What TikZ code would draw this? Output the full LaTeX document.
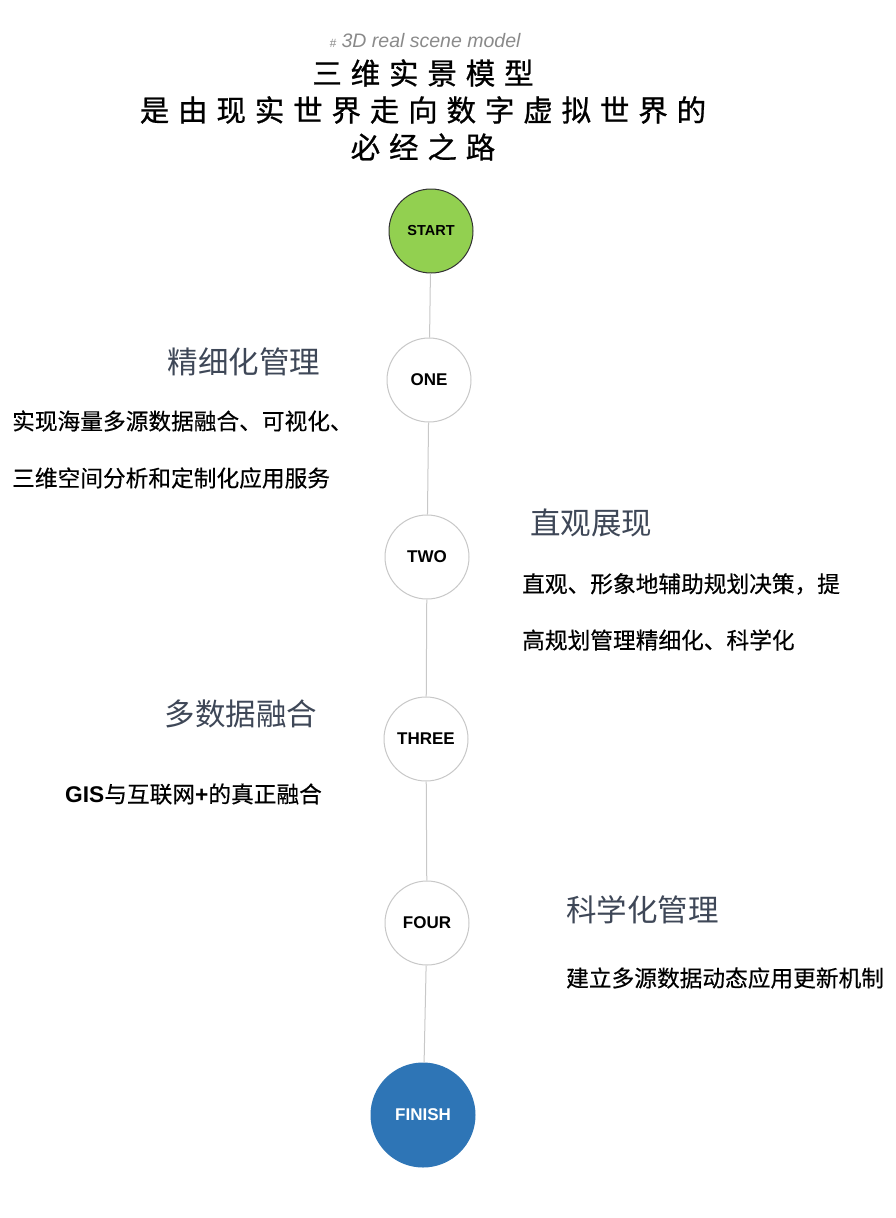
\documentclass[tikz,border=0pt]{standalone}
\usepackage{fontspec}
\setmainfont{Liberation Sans}
\newfontfamily\cjk{Noto Sans CJK SC}
\newfontfamily\cjkbody[FakeBold=0.4]{Noto Sans CJK SC}
\newfontfamily\cjkwide[LetterSpace=30,FakeBold=0.8]{Noto Sans CJK SC}
\definecolor{linegray}{HTML}{C8C8C8}
\definecolor{headgray}{HTML}{3E4757}
\definecolor{startgreen}{HTML}{92D050}
\definecolor{finishblue}{HTML}{2E75B6}
\definecolor{subgray}{HTML}{8A8A8A}
\begin{document}
\begin{tikzpicture}[x=1pt,y=-1pt,
  circ/.style={circle,draw=linegray,line width=1pt,fill=white,minimum size=84pt,inner sep=0pt,font=\fontsize{17}{17}\selectfont\bfseries},
  startc/.style={circ,fill=startgreen,draw=black!80,font=\fontsize{14.5}{14.5}\selectfont\bfseries},
  finishc/.style={circ,fill=finishblue,draw=finishblue,minimum size=104pt,text=white},
  conn/.style={draw=linegray,line width=1pt},
  heading/.style={font=\cjk\fontsize{30.5}{30.5}\selectfont,text=headgray,inner sep=0pt},
  body/.style={font=\cjkbody\fontsize{22.7}{22.7}\selectfont,text=black,inner sep=0pt,anchor=west},
  title/.style={font=\cjkwide\fontsize{29.5}{29.5}\selectfont,text=black,inner sep=0pt}]
\useasboundingbox (0,0) rectangle (896,1218);
\fill[white] (0,0) rectangle (896,1218);
% header
\node[inner sep=0pt,text=subgray,font=\fontsize{19.5}{19.5}\selectfont\itshape] (sub) at (425,41) {{\fontsize{12}{12}\selectfont\#} 3D real scene model};
\node[title] (t1) at (423,73) {三维实景模型};
\node[title] (t2) at (423,110) {是由现实世界走向数字虚拟世界的};
\node[title] (t3) at (423,147) {必经之路};
% circles
\node[startc] (start) at (431,231) {START};
\node[circ] (one) at (429,380) {ONE};
\node[circ] (two) at (427,557) {TWO};
\node[circ] (three) at (426,739) {THREE};
\node[circ] (four) at (427,923) {FOUR};
\node[finishc] (finish) at (423,1115) {FINISH};
% connectors
\draw[conn] (start) -- (one);
\draw[conn] (one) -- (two);
\draw[conn] (two) -- (three);
\draw[conn] (three) -- (four);
\draw[conn] (four) -- (finish);
% ONE texts
\node[heading] (h1) at (244,362) {精细化管理};
\node[body] (b1a) at (12,421) {实现海量多源数据融合、可视化、};
\node[body] (b1b) at (12,478) {三维空间分析和定制化应用服务};
% TWO texts
\node[heading,anchor=west] (h2) at (530,523) {直观展现};
\node[body] (b2a) at (522,584) {直观、形象地辅助规划决策，提};
\node[body] (b2b) at (522,640) {高规划管理精细化、科学化};
% THREE texts
\node[heading] (h3) at (241,714) {多数据融合};
\node[body] (b3) at (65,794) {{\bfseries\fontspec{Liberation Sans}GIS}与互联网{\bfseries\fontspec{Liberation Sans}+}的真正融合};
% FOUR texts
\node[heading,anchor=west] (h4) at (566,910) {科学化管理};
\node[body] (b4) at (566,978) {建立多源数据动态应用更新机制};
\end{tikzpicture}
\end{document}
